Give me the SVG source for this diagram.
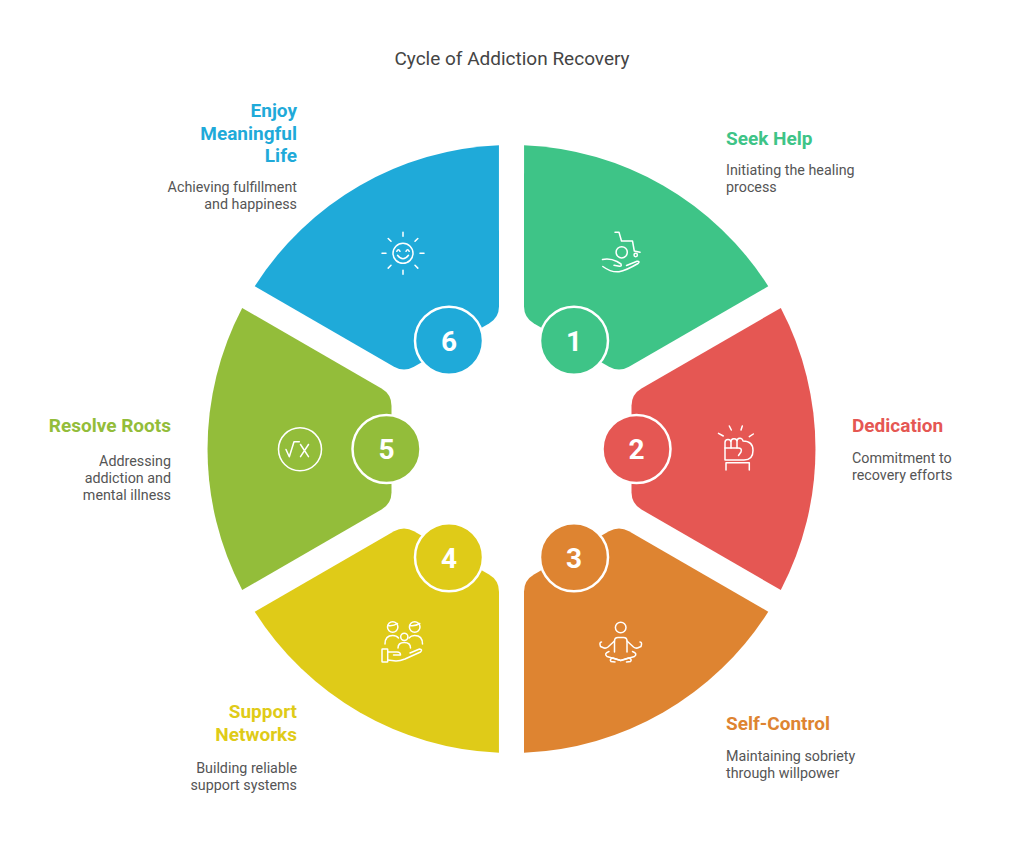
<svg xmlns="http://www.w3.org/2000/svg" xmlns:xlink="http://www.w3.org/1999/xlink" width="1024" height="852" viewBox="0 0 1024 852">
<style>
text{font-family:Roboto,"Liberation Sans",Arial,sans-serif}
.title{font-size:19px;fill:#444;text-anchor:middle}
.lbl{font-size:19px;font-weight:700}
.desc{font-size:14.3px;fill:#555}
.end{text-anchor:end}
.num{font-size:28px;font-weight:700;fill:#fff;text-anchor:middle}
.badge{stroke:#fff;stroke-width:2.5}
.ic{fill:none;stroke:#fff;stroke-width:1.5;stroke-linecap:round;stroke-linejoin:round}
</style>
<defs>
<path id="wedge" d="M120,-43.35 A20 20 0 0 1 129.96,-60.6 L269.3,-141 A304 304 0 0 1 269.3,141 L129.96,60.6 A20 20 0 0 1 120,43.35 Z"/>
</defs>
<rect width="1024" height="852" fill="#fff"/>
<text class="title" x="512" y="65">Cycle of Addiction Recovery</text>

<g id="node1">
<use xlink:href="#wedge" transform="translate(511.5 449) rotate(-60)" fill="#3EC487"/>
<circle class="badge" cx="574" cy="340.75" r="34" fill="#3EC487"/>
<text class="num" x="574" y="351">1</text>
<g class="ic" transform="translate(590 225)">
<path d="M25,7.3 L29,7.3 L31.5,16 L42.5,16 L44.3,26 L50,27.3"/>
<circle cx="31.7" cy="27.3" r="5.6"/>
<circle cx="45.7" cy="30" r="1.7"/>
<path d="M12.5,34.5 Q20,33 27,36.5 L31,39 Q32,41.5 29.5,41.3 L24,40.3"/>
<path d="M12.8,41.5 Q21,47.5 29,46.8 Q36,45.5 48,38.5 Q50.5,36 47,36.3 L36.5,40.5"/>
</g>
<text class="lbl" x="726" y="145" fill="#3EC487">Seek Help</text>
<text class="desc" x="726" y="175">Initiating the healing</text>
<text class="desc" x="726" y="192">process</text>
</g>

<g id="node2">
<use xlink:href="#wedge" transform="translate(511.5 449) rotate(0)" fill="#E55753"/>
<circle class="badge" cx="636.5" cy="449" r="34" fill="#E55753"/>
<text class="num" x="636.5" y="459">2</text>
<g class="ic" transform="translate(710 410)">
<path d="M8.5,23.3 L13.3,26 M19.3,16 L21.3,20 M32.3,16 L31,20 M43.3,24 L39.3,26.7"/>
<path d="M15,38 L15,32.5 A3 3 0 0 1 21,32.5 L21,38 M21,32 A3 3 0 0 1 27,31.5 L27,38 M27,31.5 A3 3 0 0 1 33,31 Q43,31 43,40.5 Q43,50 34,50 L15,50 L15,38"/>
<path d="M15,38 L28,38 Q32.5,38 31,42 L28.5,45.5"/>
<path d="M16,60 L16,52.7 L39.3,52.7 L39.3,60"/>
</g>
<text class="lbl" x="852" y="432" fill="#E55753">Dedication</text>
<text class="desc" x="852" y="463">Commitment to</text>
<text class="desc" x="852" y="480">recovery efforts</text>
</g>

<g id="node3">
<use xlink:href="#wedge" transform="translate(511.5 449) rotate(60)" fill="#DE8431"/>
<circle class="badge" cx="574" cy="557.25" r="34" fill="#DE8431"/>
<text class="num" x="574" y="567.5">3</text>
<g class="ic" transform="translate(590 612)">
<circle cx="30.7" cy="15.5" r="5.3"/>
<path d="M24.5,40 L24.5,29 Q24.5,25.5 28,25.5 L33.5,25.5 Q37,25.5 37,29 L37,40"/>
<path d="M24.5,29 L18,35 Q16,36.5 14,36 L10.5,34.5 M10.5,34.5 Q9,30 11.5,30"/>
<path d="M37,29 L43.5,35 Q45.5,36.5 47.5,36 L51,34.5 M51,34.5 Q52.5,30 50,30"/>
<path d="M19,39.5 Q13.5,41.5 17,44.5 L30.7,48.5 L44.5,44.5 Q48,41.5 42.5,39.5"/>
<path d="M30.7,48.5 L23,46 Q19,47 21,49.5 L25,50 M30.7,48.5 L38.5,46 Q42.5,47 40.5,49.5 L36.5,50"/>
</g>
<text class="lbl" x="726" y="730" fill="#DE8431">Self-Control</text>
<text class="desc" x="726" y="760.5">Maintaining sobriety</text>
<text class="desc" x="726" y="777.5">through willpower</text>
</g>

<g id="node4">
<use xlink:href="#wedge" transform="translate(511.5 449) rotate(120)" fill="#DFCB18"/>
<circle class="badge" cx="449" cy="557.25" r="34" fill="#DFCB18"/>
<text class="num" x="449" y="567.5">4</text>
<g class="ic" transform="translate(372 612)">
<circle cx="20.7" cy="15" r="5.2"/>
<path d="M15.8,13.5 Q21,14.5 25.5,11.5"/>
<circle cx="42.7" cy="15" r="5.3"/>
<path d="M37.6,13.5 Q43,14.5 47.8,11.5"/>
<path d="M13,32 Q13,23.5 20.7,23.5 Q24.5,23.5 26.5,26"/>
<path d="M37,26 Q39,23.5 42.7,23.5 Q50.5,23.5 50.5,32"/>
<circle cx="32.3" cy="24.8" r="3.6"/>
<path d="M26,36 Q26,30.5 32.3,30.5 Q38.5,30.5 38.5,36"/>
<rect x="10" y="37" width="5.7" height="13" rx="0.5"/>
<path d="M15.7,40 L25,40 Q28.5,40 28.5,43 L21.5,43"/>
<path d="M15.7,48 L24,49 Q28,49 33,47 L48.5,40 Q51,37.5 47.5,37 L38,41"/>
</g>
<text class="lbl end" x="297" y="718" fill="#DFCB18">Support</text>
<text class="lbl end" x="297" y="741" fill="#DFCB18">Networks</text>
<text class="desc end" x="297" y="773">Building reliable</text>
<text class="desc end" x="297" y="790">support systems</text>
</g>

<g id="node5">
<use xlink:href="#wedge" transform="translate(511.5 449) rotate(180)" fill="#93BD3A"/>
<circle class="badge" cx="386.5" cy="449" r="34" fill="#93BD3A"/>
<text class="num" x="386.5" y="459">5</text>
<g class="ic">
<circle cx="300" cy="449.3" r="21.5"/>
<path d="M286,449.5 L289.3,456.7 L294,441.7 L299.3,441.7"/>
<path d="M300.5,444.5 L308.5,456.7 M308.5,444.5 L300.5,456.7"/>
</g>
<text class="lbl end" x="171" y="432" fill="#93BD3A">Resolve Roots</text>
<text class="desc end" x="171" y="465.5">Addressing</text>
<text class="desc end" x="171" y="482.5">addiction and</text>
<text class="desc end" x="171" y="499.5">mental illness</text>
</g>

<g id="node6">
<use xlink:href="#wedge" transform="translate(511.5 449) rotate(240)" fill="#1FAAD9"/>
<circle class="badge" cx="449" cy="340.75" r="34" fill="#1FAAD9"/>
<text class="num" x="449" y="351">6</text>
<g class="ic" transform="translate(403 253.3)">
<circle r="10"/>
<path d="M0,-17 L0,-21 M0,17 L0,21 M-17,0 L-21,0 M17,0 L21,0 M12,-12 L14.8,-14.8 M-12,-12 L-14.8,-14.8 M12,12 L14.8,14.8 M-12,12 L-14.8,14.8"/>
<path d="M-6.2,-2 Q-4.6,-5 -3,-2 M3,-2 Q4.6,-5 6.2,-2"/>
<path d="M-5.5,2 Q0,9 5.5,2"/>
</g>
<text class="lbl end" x="297" y="117" fill="#1FAAD9">Enjoy</text>
<text class="lbl end" x="297" y="139.5" fill="#1FAAD9">Meaningful</text>
<text class="lbl end" x="297" y="162" fill="#1FAAD9">Life</text>
<text class="desc end" x="297" y="192">Achieving fulfillment</text>
<text class="desc end" x="297" y="209">and happiness</text>
</g>

<g id="connectors"></g>
</svg>
